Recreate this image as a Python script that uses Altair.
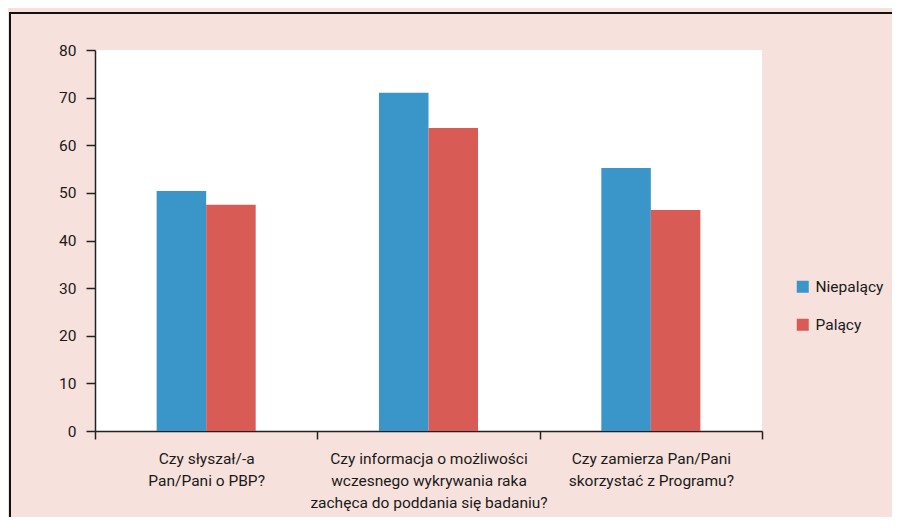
import altair as alt
import pandas as pd

categories = [
    "Czy słyszał/-a|Pan/Pani o PBP?",
    "Czy informacja o możliwości|wczesnego wykrywania raka|zachęca do poddania się badaniu?",
    "Czy zamierza Pan/Pani|skorzystać z Programu?",
]
series = ["Niepalący", "Palący"]
niepalacy = [50.4, 71.0, 55.2]
palacy = [47.5, 63.6, 46.4]
colors = ["#3a96c9", "#d95b55"]

rows = []
for c, a, b in zip(categories, niepalacy, palacy):
    rows.append({"cat": c, "grupa": series[0], "val": a})
    rows.append({"cat": c, "grupa": series[1], "val": b})
df = pd.DataFrame(rows)

FONT = "Roboto, Liberation Sans, sans-serif"
FS = 15.5

bars = alt.Chart(df).mark_bar().encode(
    x=alt.X("cat:N", sort=categories,
            scale=alt.Scale(paddingInner=0, paddingOuter=0),
            axis=alt.Axis(title=None, labelAngle=0, tickBand="extent",
                          labelExpr="split(datum.label, '|')", labelLimit=0,
                          tickSize=8, labelPadding=12, labelLineHeight=22,
                          labelFontSize=FS, labelFont=FONT, labelColor="#1a1a1a",
                          domainColor="#222", tickColor="#222",
                          domainWidth=1.5, tickWidth=1.5)),
    xOffset=alt.XOffset("grupa:N",
                        scale=alt.Scale(domain=["_l"] + series + ["_r"],
                                        paddingInner=0, paddingOuter=0.245)),
    y=alt.Y("val:Q", scale=alt.Scale(domain=[0, 80], nice=False),
            axis=alt.Axis(title=None, values=list(range(0, 81, 10)), grid=False,
                          tickSize=9, labelPadding=10, labelFontSize=FS,
                          labelFont=FONT, labelColor="#1a1a1a",
                          domainColor="#222", tickColor="#222",
                          domainWidth=1.5, tickWidth=1.5)),
    color=alt.Color("grupa:N", sort=series,
                    scale=alt.Scale(domain=series, range=colors),
                    legend=alt.Legend(title=None, orient="none", legendX=700, legendY=229,
                                      symbolType="square", symbolSize=144,
                                      symbolStrokeWidth=0, rowPadding=21,
                                      labelFontSize=FS, labelFont=FONT,
                                      labelColor="#1a1a1a", labelOffset=5, padding=0)),
)

top_line = alt.Chart().mark_rule(color="#111", strokeWidth=2).encode(
    x=alt.value(-86), x2=alt.value(800), y=alt.value(-37), y2=alt.value(-37))
left_line = alt.Chart().mark_rule(color="#111", strokeWidth=2).encode(
    x=alt.value(-85), y=alt.value(-37), y2=alt.value(480))

chart = alt.layer(bars, top_line, left_line).properties(
    width=667, height=381,
    padding={"left": 87, "top": 42, "right": 130, "bottom": 86},
    autosize=alt.AutoSizeParams(type="none"),
    background="#f7e1dc",
).configure_view(fill="white", stroke=None)

chart.save("out.html", embed_options={"renderer": "svg", "actions": False})
